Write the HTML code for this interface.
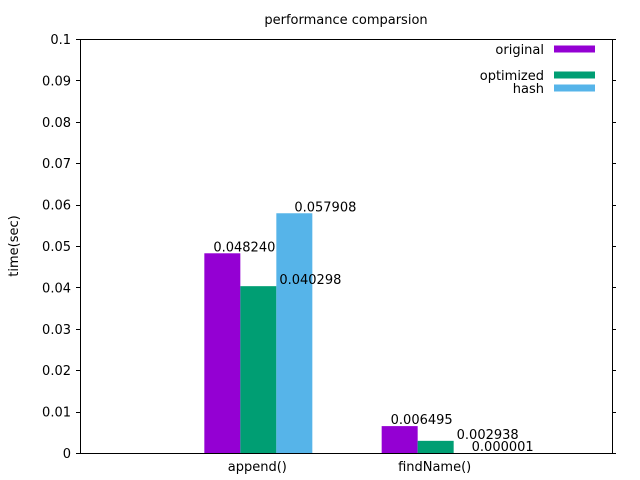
<!DOCTYPE html>
<html><head><meta charset="utf-8"><style>
body{margin:0;background:#fff}
svg{display:block}
text{font-family:"DejaVu Sans","Liberation Sans",sans-serif;font-size:13px;fill:#000}
</style></head><body>
<svg id="chart" width="640" height="480">
<text x="346" y="24" text-anchor="middle">performance comparsion</text>
<text transform="translate(18,246) rotate(-90)" text-anchor="middle">time(sec)</text>
<g id="ticks"></g>
<g id="labels0"></g>
<g id="bars"></g>
<g id="labels"></g>
<rect x="80.5" y="39.5" width="532" height="414" fill="none" stroke="#000" stroke-width="1"/>
<g id="legend"></g>
</svg>
<script>
const categories = ["append()", "findName()"];
const seriesNames = ["original", "optimized", "hash"];
const original = [0.048240, 0.006495];
const optimized = [0.040298, 0.002938];
const hash = [0.057908, 0.000001];
const yTicks = [0, 0.01, 0.02, 0.03, 0.04, 0.05, 0.06, 0.07, 0.08, 0.09, 0.1];
const yTickLabels = ["0","0.01","0.02","0.03","0.04","0.05","0.06","0.07","0.08","0.09","0.1"];

const colors = ["#9400d3", "#009e73", "#56b4e9"];
const labelOff = [-9, 21, 0];
const series = [original, optimized, hash];
const L = 80, R = 612, T = 39, B = 453;
const y = v => B - v / 0.1 * (B - T);
const x = c => L + c / 3 * (R - L);
const NS = "http://www.w3.org/2000/svg";
function mk(tag, attrs, parent) {
  const e = document.createElementNS(NS, tag);
  for (const k in attrs) e.setAttribute(k, attrs[k]);
  document.getElementById(parent).appendChild(e);
  return e;
}
yTicks.forEach((v, i) => {
  const yy = Math.round(y(v)) + 0.5;
  const l1 = mk("line", {x1: 76, x2: 80, y1: yy, y2: yy, stroke: "#000"}, "ticks");
  
  
  const l2 = mk("line", {x1: 612, x2: 616, y1: yy, y2: yy, stroke: "#000"}, "ticks");
  
  
  const t = mk("text", {x: 71, y: y(v) + 5, "text-anchor": "end"}, "ticks");
  t.textContent = yTickLabels[i];
  
  
});
const bw = 36;
categories.forEach((c, ci) => {
  const cx = x(ci + 1) + 1;
  const t = mk("text", {x: cx - 1, y: 471, "text-anchor": "middle"}, "ticks");
  t.textContent = c;
  
  
  series.forEach((s, si) => {
    const bx = cx - 1.5 * bw + si * bw;
    const top = y(s[ci]);
    const r = mk("rect", {x: bx, y: top, width: bw, height: Math.max(0, B - top), fill: colors[si]}, "bars");
    
    
    const lt = mk("text", {x: bx + bw / 2 + labelOff[si], y: top - 2}, si === 0 ? "labels0" : "labels");
    lt.textContent = s[ci].toFixed(6);
    
    
  });
});
const legY = [49, 75, 88];
seriesNames.forEach((n, i) => {
  const t = mk("text", {x: 544, y: legY[i] + 5, "text-anchor": "end"}, "legend");
  t.textContent = n;
  
  
  const r = mk("rect", {x: 554, y: legY[i] - 3.5, width: 41, height: 7, fill: colors[i]}, "legend");
  
  
});
</script>
</body></html>
